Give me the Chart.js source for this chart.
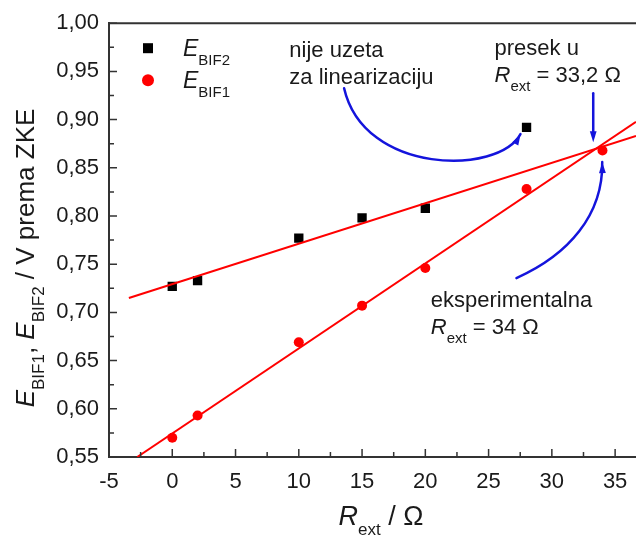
<!DOCTYPE html>
<html><head><meta charset="utf-8">
<script src="https://cdn.jsdelivr.net/npm/chart.js@4.4.0/dist/chart.umd.min.js"></script>
<style>html,body{margin:0;padding:0;background:#fff}#wrap{width:636px;height:536px}</style>
</head><body><div id="wrap"><canvas id="c" width="636" height="536"></canvas></div>
<script>
// ---- data ----
const xBif2 = [0, 2, 10, 15, 20, 28];
const eBif2 = [0.727, 0.733, 0.777, 0.798, 0.808, 0.892];
const xBif1 = [0, 2, 10, 15, 20, 28, 34];
const eBif1 = [0.570, 0.593, 0.669, 0.707, 0.746, 0.828, 0.868];
const fitBif2X = [-3.43, 36.65];
const fitBif2Y = [0.715, 0.883];
const fitBif1X = [-2.77, 36.65];
const fitBif1Y = [0.55, 0.8977];
const xTicks = [-5, 0, 5, 10, 15, 20, 25, 30, 35];
const yTicks = [0.55, 0.60, 0.65, 0.70, 0.75, 0.80, 0.85, 0.90, 0.95, 1.00];
const xRange = [-5, 36.65];
const yRange = [0.55, 1.00];

// annotation anchors (data units)
const noteNotUsed = { x: 9.25, y: [0.9648, 0.9368] };
const noteCross = { x: 25.47, y: [0.9668, 0.9388] };
const noteExp = { x: 20.43, y: [0.7055, 0.6775] };
const arrowNotUsed = [[13.58, 0.9326], [15.16, 0.8424], [25.79, 0.8424], [27.52, 0.8849]];
const arrowCross = [[33.27, 0.9274], [33.27, 0.8766]];
const arrowExp = [[27.20, 0.7356], [31.30, 0.7595], [34.06, 0.8009], [33.98, 0.8559]];

const FONT = '"Liberation Sans", Arial, Helvetica, sans-serif';
const TXT = '#1a1a1a';
const AXC = '#333333';
const BLUE = '#1414dc';
const RED = '#ff0000';

function pts(xs, ys) { return xs.map((x, i) => ({ x: x, y: ys[i] })); }

function drawRich(ctx, parts, x, y, size, subSize, subDy) {
  let cx = x;
  for (const p of parts) {
    const fs = p.sub ? subSize : size;
    ctx.font = (p.it ? 'italic ' : '') + fs + 'px ' + FONT;
    ctx.fillText(p.t, cx, y + (p.sub ? subDy : 0));
    cx += ctx.measureText(p.t).width;
  }
  return cx - x;
}
function richWidth(ctx, parts, size, subSize) {
  let w = 0;
  for (const p of parts) {
    ctx.font = (p.it ? 'italic ' : '') + (p.sub ? subSize : size) + 'px ' + FONT;
    w += ctx.measureText(p.t).width;
  }
  return w;
}
function arrowHead(ctx, x, y, dx, dy) {
  const len = Math.hypot(dx, dy) || 1;
  const ux = dx / len, uy = dy / len;
  const L = 11, W = 3.4;
  ctx.beginPath();
  ctx.moveTo(x, y);
  ctx.lineTo(x - ux * L - uy * W, y - uy * L + ux * W);
  ctx.lineTo(x - ux * L + uy * W, y - uy * L - ux * W);
  ctx.closePath();
  ctx.fill();
}

const decor = {
  id: 'decor',
  afterDraw(chart) {
    const ctx = chart.ctx;
    const xs = chart.scales.x, ys = chart.scales.y;
    const ca = chart.chartArea;
    const px = v => xs.getPixelForValue(v), py = v => ys.getPixelForValue(v);
    ctx.save();
    // top frame line
    ctx.strokeStyle = AXC; ctx.lineWidth = 2;
    ctx.beginPath(); ctx.moveTo(ca.left - 1, ca.top); ctx.lineTo(ca.right, ca.top); ctx.stroke();
    // inside ticks
    ctx.lineWidth = 1.5;
    ctx.beginPath();
    for (let i = 0; i < xTicks.length; i++) {
      const X = px(xTicks[i]);
      ctx.moveTo(X, ca.bottom); ctx.lineTo(X, ca.bottom - 8);
      const m = xTicks[i] + 2.5;
      if (m < xRange[1]) { const M = px(m); ctx.moveTo(M, ca.bottom); ctx.lineTo(M, ca.bottom - 5); }
    }
    for (let i = 0; i < yTicks.length; i++) {
      const Y = py(yTicks[i]);
      ctx.moveTo(ca.left, Y); ctx.lineTo(ca.left + 8, Y);
      if (i < yTicks.length - 1) { const M = py((yTicks[i] + yTicks[i + 1]) / 2); ctx.moveTo(ca.left, M); ctx.lineTo(ca.left + 5, M); }
    }
    ctx.stroke();

    ctx.fillStyle = TXT;
    ctx.textBaseline = 'alphabetic';
    ctx.textAlign = 'left';
    // legend
    const ds2 = chart.data.datasets[2], ds3 = chart.data.datasets[3];
    ctx.fillStyle = ds2.backgroundColor;
    ctx.fillRect(ca.left + 34, ca.top + 20, 10, 10);
    ctx.fillStyle = ds3.backgroundColor;
    ctx.beginPath(); ctx.arc(ca.left + 39, ca.top + 57, 6, 0, Math.PI * 2); ctx.fill();
    ctx.fillStyle = TXT;
    drawRich(ctx, [{ t: 'E', it: true }, { t: 'BIF2', sub: true }], ca.left + 74, ca.top + 33, 23, 15, 9);
    drawRich(ctx, [{ t: 'E', it: true }, { t: 'BIF1', sub: true }], ca.left + 74, ca.top + 65, 23, 15, 9);

    // annotations
    ctx.font = '22px ' + FONT;
    ctx.fillText('nije uzeta', px(noteNotUsed.x), py(noteNotUsed.y[0]));
    ctx.fillText('za linearizaciju', px(noteNotUsed.x), py(noteNotUsed.y[1]));
    ctx.fillText('presek u', px(noteCross.x), py(noteCross.y[0]));
    drawRich(ctx, [{ t: 'R', it: true }, { t: 'ext', sub: true }, { t: ' = 33,2 \u03A9' }], px(noteCross.x), py(noteCross.y[1]), 22, 15, 9);
    ctx.font = '22px ' + FONT;
    ctx.fillText('eksperimentalna', px(noteExp.x), py(noteExp.y[0]));
    drawRich(ctx, [{ t: 'R', it: true }, { t: 'ext', sub: true }, { t: ' = 34 \u03A9' }], px(noteExp.x), py(noteExp.y[1]), 22, 15, 9);

    // arrows
    ctx.strokeStyle = BLUE; ctx.fillStyle = BLUE; ctx.lineWidth = 2.5; ctx.lineCap = 'round';
    function curve(a) {
      const P = a.map(p => [px(p[0]), py(p[1])]);
      ctx.beginPath();
      ctx.moveTo(P[0][0], P[0][1]);
      ctx.bezierCurveTo(P[1][0], P[1][1], P[2][0], P[2][1], P[3][0], P[3][1]);
      ctx.stroke();
      arrowHead(ctx, P[3][0], P[3][1], P[3][0] - P[2][0], P[3][1] - P[2][1]);
    }
    curve(arrowNotUsed);
    curve(arrowExp);
    const A = [px(arrowCross[0][0]), py(arrowCross[0][1])], B = [px(arrowCross[1][0]), py(arrowCross[1][1])];
    ctx.beginPath(); ctx.moveTo(A[0], A[1]); ctx.lineTo(B[0], B[1] - 6); ctx.stroke();
    arrowHead(ctx, B[0], B[1], B[0] - A[0], B[1] - A[1]);

    // axis titles
    ctx.fillStyle = TXT;
    const xt = [{ t: 'R', it: true }, { t: 'ext', sub: true }, { t: ' / \u03A9' }];
    const wx = richWidth(ctx, xt, 27, 17);
    drawRich(ctx, xt, 381 - wx / 2, 525, 27, 17, 10);
    const yt = [{ t: 'E', it: true }, { t: 'BIF1', sub: true }, { t: ', ' }, { t: 'E', it: true }, { t: 'BIF2', sub: true }, { t: ' / V prema ZKE' }];
    const wy = richWidth(ctx, yt, 26, 17);
    ctx.translate(34, 258 + wy / 2);
    ctx.rotate(-Math.PI / 2);
    drawRich(ctx, yt, 0, 0, 26, 17, 10);
    ctx.restore();
  }
};

new Chart(document.getElementById('c'), {
  type: 'scatter',
  data: {
    datasets: [
      { type: 'line', label: 'fit BIF2', data: pts(fitBif2X, fitBif2Y), borderColor: RED, borderWidth: 2, pointRadius: 0, fill: false },
      { type: 'line', label: 'fit BIF1', data: pts(fitBif1X, fitBif1Y), borderColor: RED, borderWidth: 2, pointRadius: 0, fill: false },
      { label: 'E BIF2', data: pts(xBif2, eBif2), pointStyle: 'rect', pointRadius: 6.6, backgroundColor: '#000000', borderColor: '#000000', borderWidth: 0 },
      { label: 'E BIF1', data: pts(xBif1, eBif1), pointStyle: 'circle', pointRadius: 5, backgroundColor: RED, borderColor: RED, borderWidth: 0 }
    ]
  },
  options: {
    responsive: false,
    animation: false,
    devicePixelRatio: 1,
    layout: { autoPadding: false, padding: { top: 23, right: 0, bottom: 0, left: 0 } },
    plugins: { legend: { display: false }, tooltip: { enabled: false } },
    scales: {
      x: {
        type: 'linear', min: xRange[0], max: xRange[1],
        afterBuildTicks: s => { s.ticks = xTicks.map(v => ({ value: v })); },
        afterFit: s => { s.height = 79; s.paddingLeft = 0; s.paddingRight = 0; },
        grid: { display: false, drawTicks: false },
        border: { display: true, color: AXC, width: 2 },
        ticks: { autoSkip: false, maxRotation: 0, padding: 12, color: TXT, font: { family: FONT, size: 22 }, callback: v => String(v) }
      },
      y: {
        type: 'linear', min: yRange[0], max: yRange[1],
        afterBuildTicks: s => { s.ticks = yTicks.map(v => ({ value: v })); },
        afterFit: s => { s.width = 109; },
        grid: { display: false, drawTicks: false },
        border: { display: true, color: AXC, width: 2 },
        ticks: { autoSkip: false, padding: 10, color: TXT, font: { family: FONT, size: 22 }, callback: v => Number(v).toFixed(2).replace('.', ',') }
      }
    }
  },
  plugins: [decor]
});
</script>
</body></html>
